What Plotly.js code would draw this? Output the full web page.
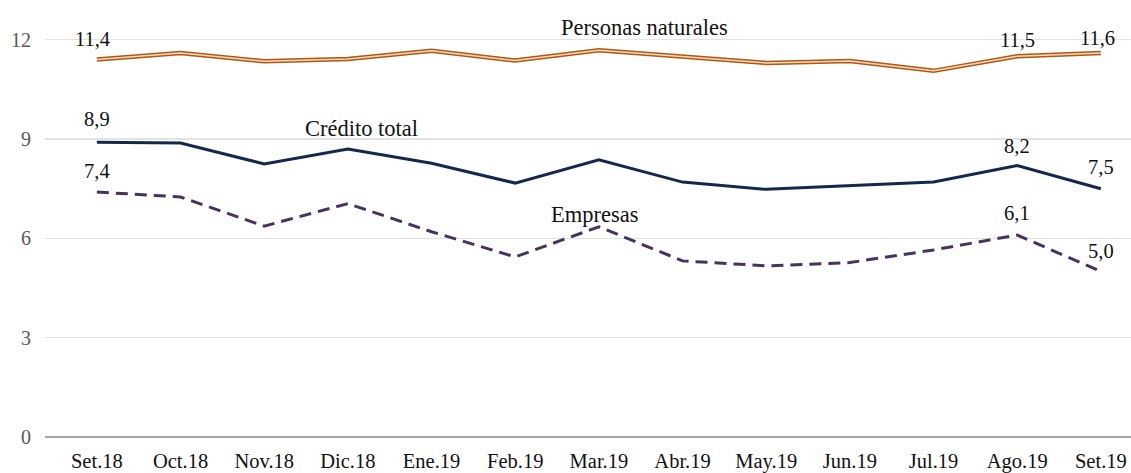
<!DOCTYPE html>
<html>
<head>
<meta charset="utf-8">
<script src="https://cdn.plot.ly/plotly-3.0.1.min.js"></script>
<style>html,body{margin:0;padding:0;background:#fff;}#chart{width:1131px;height:473px;}</style>
</head>
<body>
<div id="chart"></div>
<script>
const categories = ["Set.18","Oct.18","Nov.18","Dic.18","Ene.19","Feb.19","Mar.19","Abr.19","May.19","Jun.19","Jul.19","Ago.19","Set.19"];
const personasNaturales = [11.4, 11.6, 11.35, 11.42, 11.67, 11.37, 11.68, 11.5, 11.3, 11.36, 11.06, 11.5, 11.6];
const creditoTotal = [8.9, 8.88, 8.25, 8.7, 8.27, 7.67, 8.37, 7.7, 7.48, 7.6, 7.7, 8.2, 7.5];
const empresas = [7.4, 7.25, 6.37, 7.05, 6.2, 5.44, 6.35, 5.32, 5.17, 5.27, 5.65, 6.1, 5.0];
const yTicks = [0, 3, 6, 9, 12];

const FONT = "Liberation Serif, Times New Roman, serif";
const idx = categories.map((_, i) => i);

const traces = [
  {x: idx, y: personasNaturales, mode: "lines", line: {color: "#b5560f", width: 4.5}, hoverinfo: "skip"},
  {x: idx, y: personasNaturales, mode: "lines", line: {color: "#f7dcc4", width: 1.5}, hoverinfo: "skip"},
  {x: idx, y: creditoTotal, mode: "lines", line: {color: "#13294b", width: 3}},
  {x: idx, y: empresas, mode: "lines", line: {color: "#46335f", width: 3, dash: "12px,7px"}}
];

function lab(i, v, text, yshift, xshift) {
  return {x: i, y: v, xref: "x", yref: "y", text: text, showarrow: false,
          yshift: yshift, xshift: xshift || 0, font: {family: FONT, size: 20.5, color: "#111"}};
}
function name(x, y, text) {
  return {x: x, y: y, xref: "x", yref: "y", text: text, showarrow: false,
          font: {family: FONT, size: 22.5, color: "#111"}};
}
const n = categories.length - 1;
const annotations = [
  lab(0, personasNaturales[0], "11,4", 21, -4),
  lab(n - 1, personasNaturales[n - 1], "11,5", 16),
  lab(n, personasNaturales[n], "11,6", 15, -3),
  lab(0, creditoTotal[0], "8,9", 23),
  lab(n - 1, creditoTotal[n - 1], "8,2", 20),
  lab(n, creditoTotal[n], "7,5", 22),
  lab(0, empresas[0], "7,4", 21),
  lab(n - 1, empresas[n - 1], "6,1", 22),
  lab(n, empresas[n], "5,0", 20),
  name(6.55, 12.36, "Personas naturales"),
  name(3.16, 9.33, "Crédito total"),
  name(5.95, 6.73, "Empresas")
];

const layout = {
  width: 1131, height: 473,
  margin: {l: 45, r: 0, t: 0, b: 36, pad: 0},
  paper_bgcolor: "#fff", plot_bgcolor: "#fff",
  showlegend: false,
  font: {family: FONT, size: 20, color: "#111"},
  xaxis: {
    range: [-0.62, 12.36], tickmode: "array", tickvals: idx, ticktext: categories,
    showgrid: false, zeroline: false, showline: false, ticks: "",
    ticklabelstandoff: 9,
    tickfont: {family: FONT, size: 20.5, color: "#111"}, fixedrange: true
  },
  yaxis: {
    range: [0, 13.2], tickmode: "array", tickvals: yTicks, ticktext: yTicks.map(String),
    showgrid: true, gridcolor: "#e3e3e3", gridwidth: 1.3,
    zeroline: true, zerolinecolor: "#a6a6a6", zerolinewidth: 1.5,
    showline: false, ticks: "", ticklabelstandoff: 13,
    tickfont: {family: FONT, size: 20, color: "#595959"}, fixedrange: true
  },
  annotations: annotations
};

Plotly.newPlot("chart", traces, layout, {displayModeBar: false, staticPlot: true});
</script>
</body>
</html>
